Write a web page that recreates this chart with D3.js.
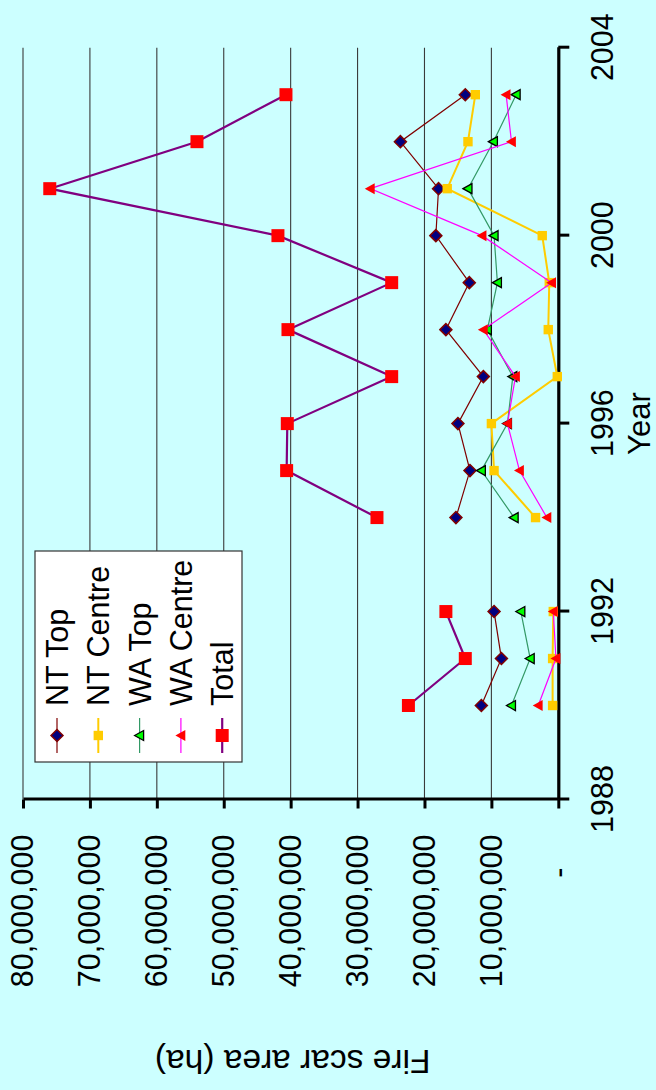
<!DOCTYPE html>
<html><head><meta charset="utf-8">
<script src="https://cdn.jsdelivr.net/npm/d3@7/dist/d3.min.js"></script>
<style>html,body{margin:0;padding:0;background:#ccffff;} svg{display:block}</style>
</head><body><svg id="c" width="656" height="1090"></svg>
<script>
// ---- data (hectares) ----
const years = [1990,1991,1992,1993,1994,1995,1996,1997,1998,1999,2000,2001,2002,2003];
const ntTop    = [11.5e6, 8.5e6, 9.6e6, null, 15.3e6, 13.2e6, 15.0e6, 11.2e6, 16.8e6, 13.3e6, 18.3e6, 17.9e6, 23.6e6, 13.9e6];
const ntCentre = [0.85e6, 0.85e6, 0.75e6, null, 3.4e6, 9.6e6, 10.0e6, 0.15e6, 1.5e6, 1.35e6, 2.4e6, 16.6e6, 13.5e6, 12.4e6];
const waTop    = [7.0e6, 4.2e6, 5.6e6, null, 6.6e6, 11.5e6, 7.6e6, 6.8e6, 10.6e6, 9.1e6, 9.6e6, 13.5e6, 9.7e6, 6.3e6];
const waCentre = [3.0e6, 0.35e6, 0.75e6, null, 1.7e6, 5.8e6, 7.6e6, 6.4e6, 11.2e6, 1.0e6, 11.4e6, 28.1e6, 7.0e6, 7.8e6];
const total    = [22.4e6, 13.9e6, 16.8e6, null, 27.1e6, 40.6e6, 40.5e6, 24.9e6, 40.4e6, 24.9e6, 41.9e6, 76.0e6, 54.0e6, 40.7e6];
const seriesNames = ["NT Top","NT Centre","WA Top","WA Centre","Total"];
const yearTicks = [1988,1992,1996,2000,2004];
const valueTicks = [0,10e6,20e6,30e6,40e6,50e6,60e6,70e6,80e6];
const xTitle = "Year";
const yTitle = "Fire scar area (ha)";

const seriesValues = [ntTop, ntCentre, waTop, waCentre, total];
const styles = [
  {line:"#800000", lw:1.2, shape:"diamond", fill:"#000080", stroke:"#800000", sw:1.5, r:6},
  {line:"#ffcc00", lw:2,   shape:"square",  fill:"#ffcc00", stroke:"none",    sw:0,   r:4.7},
  {line:"#339966", lw:1.2, shape:"triangle",fill:"#00ff00", stroke:"#000000", sw:1.3, r:5},
  {line:"#ff00ff", lw:1.2, shape:"triangle",fill:"#ff0000", stroke:"none",    sw:0,   r:5.5},
  {line:"#800080", lw:2.2, shape:"square",  fill:"#ff0000", stroke:"none",    sw:0,   r:6.5}
];

const FONT = "'Liberation Sans', Arial, sans-serif";
const svg = d3.select("#c");
svg.append("rect").attr("width",656).attr("height",1090).attr("fill","#ccffff");
// chart is drawn upright (1090 wide x 656 tall) then rotated -90deg
const g = svg.append("g").attr("transform","translate(0,1090) rotate(-90)");

const x = d3.scaleLinear().domain([1988,2004]).range([290.5,1042.3]);
const y = d3.scaleLinear().domain([0,80e6]).range([558.3,23]);

// gridlines
g.append("g").selectAll("line").data(valueTicks.filter(v=>v>0)).join("line")
  .attr("x1",x(1988)).attr("x2",x(2004))
  .attr("y1",d=>y(d)).attr("y2",d=>y(d))
  .attr("stroke","#3a3a3a").attr("stroke-width",1.1);

// value axis (left in upright chart)
const yAxis = g.append("g").attr("transform",`translate(${x(1988)},0)`)
  .call(d3.axisLeft(y).tickValues(valueTicks).tickSize(9).tickSizeOuter(0).tickPadding(26)
    .tickFormat(d => d===0 ? "-" : d3.format(",")(d)));
yAxis.select(".domain").attr("stroke","#000").attr("stroke-width",3.2);
yAxis.selectAll(".tick line").attr("stroke","#000").attr("stroke-width",3);
yAxis.selectAll(".tick text").attr("font-family",FONT).attr("font-size",30.5).attr("fill","#000")
  .attr("dx",d=>d===0?-33:0);

// year axis (bottom in upright chart)
const xAxis = g.append("g").attr("transform",`translate(0,${y(0)})`)
  .call(d3.axisBottom(x).tickValues(yearTicks).tickSize(11).tickSizeOuter(0)
    .tickFormat(d3.format("d")));
xAxis.select(".domain").attr("stroke","#000").attr("stroke-width",3.2);
xAxis.selectAll(".tick line").attr("stroke","#000").attr("stroke-width",3);
xAxis.selectAll(".tick text").attr("font-family",FONT).attr("font-size",30.5).attr("fill","#000")
  .attr("y",54.7).attr("dy",0);

// titles
g.append("text").attr("x",x(1996)).attr("y",650).attr("text-anchor","middle")
  .attr("font-family",FONT).attr("font-size",31).text(xTitle);
g.append("text").attr("transform",`translate(40,${(y(0)+y(80e6))/2+2}) rotate(-90)`)
  .attr("text-anchor","middle").attr("font-family",FONT).attr("font-size",33.5).text(yTitle);

function shapePath(shape, r){
  if(shape==="diamond") return `M0,${-r}L${r},0L0,${r}L${-r},0Z`;
  if(shape==="square") return `M${-r},${-r}h${2*r}v${2*r}h${-2*r}Z`;
  if(shape==="triangle") return `M0,${-r}L${r},${r*0.8}L${-r},${r*0.8}Z`;
}

const line = d3.line().defined(d=>d.v!=null).x(d=>x(d.yr)).y(d=>y(d.v));

seriesValues.forEach((vals,i)=>{
  const st = styles[i];
  const pts = years.map((yr,j)=>({yr, v:vals[j]}));
  const sg = g.append("g");
  sg.append("path").datum(pts).attr("d",line).attr("fill","none")
    .attr("stroke",st.line).attr("stroke-width",st.lw);
  sg.selectAll("path.m").data(pts.filter(d=>d.v!=null)).join("path").attr("class","m")
    .attr("transform",d=>`translate(${x(d.yr)},${y(d.v)})`)
    .attr("d",shapePath(st.shape, st.r))
    .attr("fill",st.fill).attr("stroke",st.stroke).attr("stroke-width",st.sw);
});

// legend
const lg = g.append("g");
lg.append("rect").attr("x",328).attr("y",35).attr("width",211).attr("height",207)
  .attr("fill","#fff").attr("stroke","#333").attr("stroke-width",1.2);
seriesNames.forEach((name,i)=>{
  const st = styles[i];
  const base = 68 + i*41.3;
  const cy = base - 11;
  lg.append("line").attr("x1",337).attr("x2",372).attr("y1",cy).attr("y2",cy)
    .attr("stroke",st.line).attr("stroke-width",st.lw);
  lg.append("path").attr("transform",`translate(354.5,${cy})`).attr("d",shapePath(st.shape,st.r))
    .attr("fill",st.fill).attr("stroke",st.stroke).attr("stroke-width",st.sw);
  lg.append("text").attr("x",384).attr("y",base).attr("font-family",FONT).attr("font-size",30.5)
    .text(name);
});
</script></body></html>
